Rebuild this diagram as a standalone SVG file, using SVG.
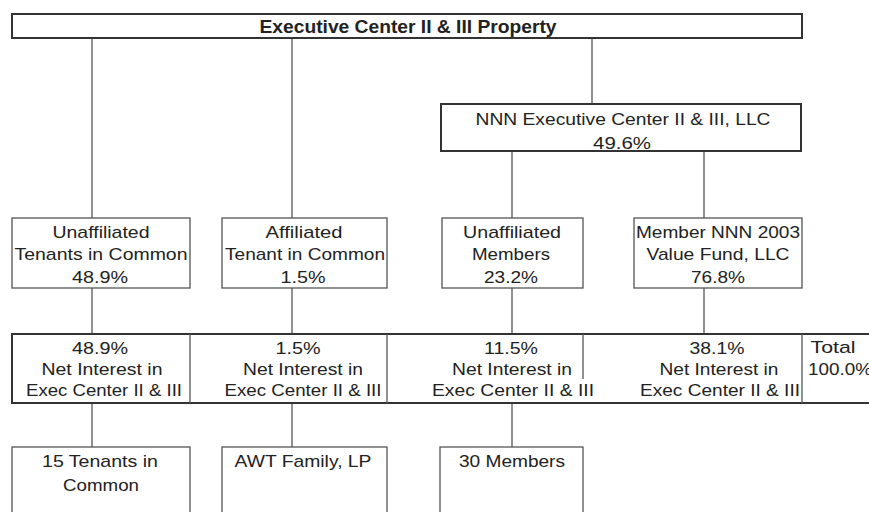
<svg xmlns="http://www.w3.org/2000/svg" width="869" height="512" viewBox="0 0 869 512">
<style>
.bg{fill:#fff}
.thick{fill:#fff;stroke:#333;stroke-width:2}
.box{fill:#fff;stroke:#555;stroke-width:1.3}
.ln{stroke:#555;stroke-width:1.3;fill:none}
text{font-family:"Liberation Sans",Arial,sans-serif;font-size:17px;fill:#222;text-anchor:middle}
.b{font-weight:bold;font-size:18px}
</style>
<rect class="bg" x="0" y="0" width="869" height="512"/>
<g id="connectors">
<line class="ln" x1="92" y1="38" x2="92" y2="218"/>
<line class="ln" x1="292" y1="38" x2="292" y2="218"/>
<line class="ln" x1="592" y1="38" x2="592" y2="104"/>
<line class="ln" x1="512" y1="151" x2="512" y2="218"/>
<line class="ln" x1="704" y1="151" x2="704" y2="218"/>
<line class="ln" x1="92" y1="288" x2="92" y2="334"/>
<line class="ln" x1="292" y1="288" x2="292" y2="334"/>
<line class="ln" x1="512" y1="288" x2="512" y2="334"/>
<line class="ln" x1="704" y1="288" x2="704" y2="334"/>
<line class="ln" x1="92" y1="403" x2="92" y2="447"/>
<line class="ln" x1="292" y1="403" x2="292" y2="447"/>
<line class="ln" x1="512" y1="403" x2="512" y2="447"/>
</g>
<g id="property">
<rect class="thick" x="12" y="14" width="790" height="24"/>
<text class="b" x="408" y="32.5" textLength="297" lengthAdjust="spacingAndGlyphs">Executive Center II &amp; III Property</text>
</g>
<g id="nnn-llc">
<rect class="thick" x="441" y="104" width="360" height="47"/>
<text x="623" y="125" textLength="295" lengthAdjust="spacingAndGlyphs">NNN Executive Center II &amp; III, LLC</text>
<text x="622" y="149" textLength="58" lengthAdjust="spacingAndGlyphs">49.6%</text>
</g>
<g id="unaffiliated-tic">
<rect class="box" x="12" y="218" width="178" height="70"/>
<text x="101" y="238" textLength="97" lengthAdjust="spacingAndGlyphs">Unaffiliated</text>
<text x="101" y="260" textLength="173" lengthAdjust="spacingAndGlyphs">Tenants in Common</text>
<text x="100" y="283" textLength="56" lengthAdjust="spacingAndGlyphs">48.9%</text>
</g>
<g id="affiliated-tic">
<rect class="box" x="222" y="218" width="165" height="70"/>
<text x="304" y="238" textLength="77" lengthAdjust="spacingAndGlyphs">Affiliated</text>
<text x="305" y="260" textLength="160" lengthAdjust="spacingAndGlyphs">Tenant in Common</text>
<text x="303" y="283" textLength="45" lengthAdjust="spacingAndGlyphs">1.5%</text>
</g>
<g id="unaffiliated-members">
<rect class="box" x="442" y="218" width="141" height="70"/>
<text x="512" y="238" textLength="98" lengthAdjust="spacingAndGlyphs">Unaffiliated</text>
<text x="511" y="260" textLength="78" lengthAdjust="spacingAndGlyphs">Members</text>
<text x="511" y="283" textLength="54" lengthAdjust="spacingAndGlyphs">23.2%</text>
</g>
<g id="value-fund">
<rect class="box" x="634" y="218" width="168" height="70"/>
<text x="718" y="238" textLength="164" lengthAdjust="spacingAndGlyphs">Member NNN 2003</text>
<text x="718" y="260" textLength="143" lengthAdjust="spacingAndGlyphs">Value Fund, LLC</text>
<text x="718" y="283" textLength="54" lengthAdjust="spacingAndGlyphs">76.8%</text>
</g>
<g id="net-interest">
<line class="ln" x1="12" y1="334" x2="869" y2="334" style="stroke-width:2;stroke:#333"/>
<line class="ln" x1="12" y1="403" x2="869" y2="403" style="stroke-width:2;stroke:#333"/>
<line class="ln" x1="12" y1="333" x2="12" y2="404" style="stroke-width:2;stroke:#333"/>
<line class="ln" x1="190" y1="334" x2="190" y2="403"/>
<line class="ln" x1="387" y1="334" x2="387" y2="403"/>
<line class="ln" x1="583" y1="334" x2="583" y2="379"/>
<line class="ln" x1="802" y1="334" x2="802" y2="403"/>
<text x="100" y="354" textLength="56" lengthAdjust="spacingAndGlyphs">48.9%</text>
<text x="102" y="375" textLength="121" lengthAdjust="spacingAndGlyphs">Net Interest in</text>
<text x="104" y="396" textLength="156" lengthAdjust="spacingAndGlyphs">Exec Center II &amp; III</text>
<text x="298" y="354" textLength="45" lengthAdjust="spacingAndGlyphs">1.5%</text>
<text x="303" y="375" textLength="120" lengthAdjust="spacingAndGlyphs">Net Interest in</text>
<text x="303" y="396" textLength="157" lengthAdjust="spacingAndGlyphs">Exec Center II &amp; III</text>
<text x="511" y="354" textLength="54" lengthAdjust="spacingAndGlyphs">11.5%</text>
<text x="512" y="375" textLength="120" lengthAdjust="spacingAndGlyphs">Net Interest in</text>
<text x="513" y="396" textLength="162" lengthAdjust="spacingAndGlyphs">Exec Center II &amp; III</text>
<text x="717" y="354" textLength="55" lengthAdjust="spacingAndGlyphs">38.1%</text>
<text x="719" y="375" textLength="119" lengthAdjust="spacingAndGlyphs">Net Interest in</text>
<text x="720" y="396" textLength="160" lengthAdjust="spacingAndGlyphs">Exec Center II &amp; III</text>
<text x="833" y="353" textLength="45" lengthAdjust="spacingAndGlyphs">Total</text>
<text x="840" y="375" textLength="64" lengthAdjust="spacingAndGlyphs">100.0%</text>
</g>
<g id="tenants-15">
<rect class="box" x="12" y="447" width="178" height="80"/>
<text x="100" y="467" textLength="116" lengthAdjust="spacingAndGlyphs">15 Tenants in</text>
<text x="101" y="491" textLength="76" lengthAdjust="spacingAndGlyphs">Common</text>
</g>
<g id="awt-family">
<rect class="box" x="222" y="447" width="165" height="80"/>
<text x="303" y="467" textLength="137" lengthAdjust="spacingAndGlyphs">AWT Family, LP</text>
</g>
<g id="members-30">
<rect class="box" x="440" y="447" width="143" height="80"/>
<text x="512" y="467" textLength="106" lengthAdjust="spacingAndGlyphs">30 Members</text>
</g>
</svg>
